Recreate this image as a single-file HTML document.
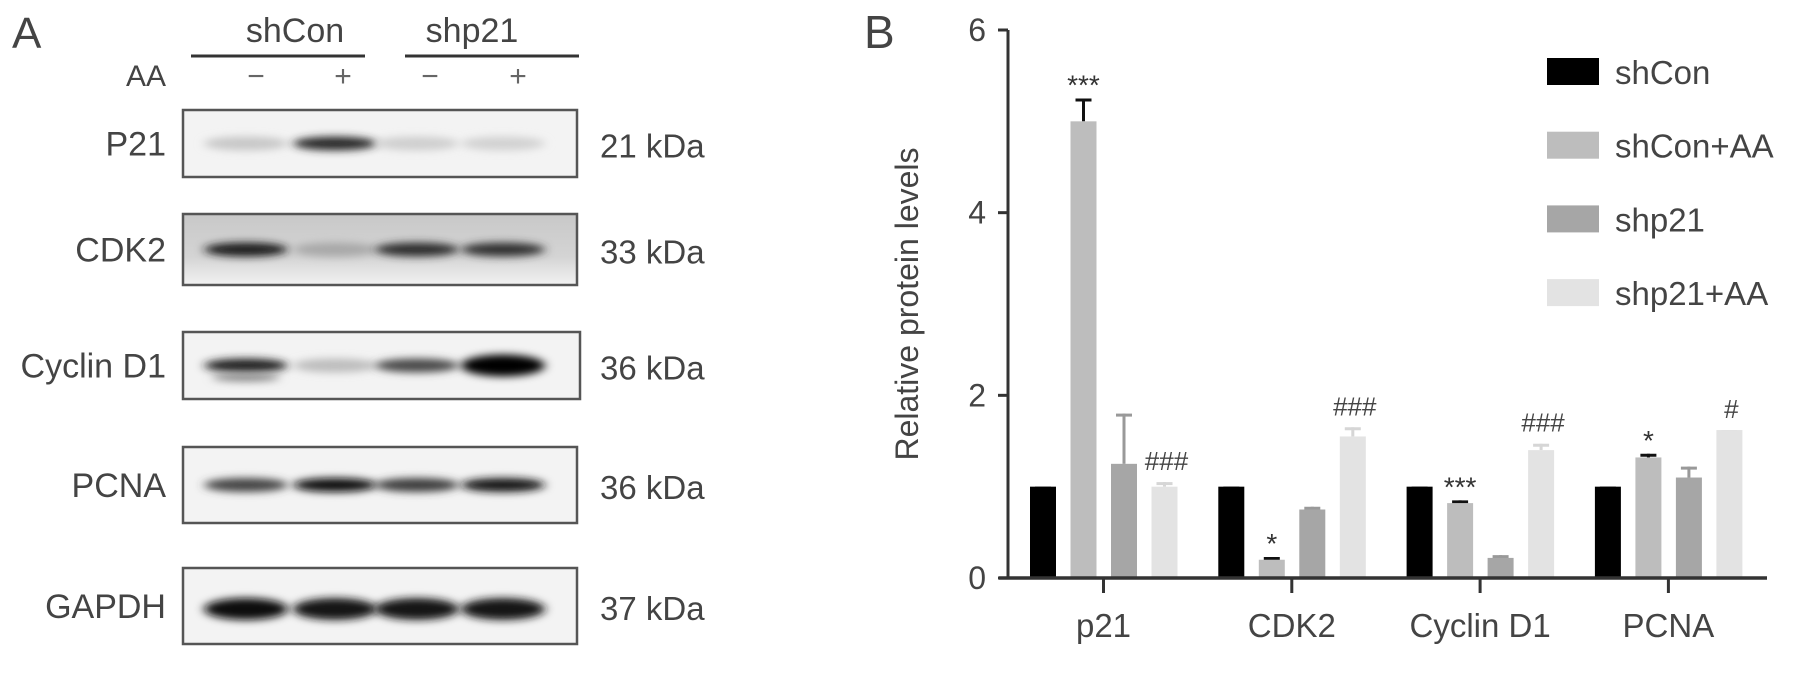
<!DOCTYPE html>
<html><head><meta charset="utf-8"><style>
html,body{margin:0;padding:0;background:#fff}
svg{display:block;font-family:"Liberation Sans",Arial,sans-serif}
</style></head><body>
<svg id="fig" width="1795" height="699" viewBox="0 0 1795 699" xmlns="http://www.w3.org/2000/svg">
<defs>
<filter id="bl" x="-50%" y="-100%" width="200%" height="300%"><feGaussianBlur stdDeviation="5 4"/></filter>
<linearGradient id="cdkbg" x1="0" y1="0" x2="0" y2="1"><stop offset="0" stop-color="#c8c8c8"/><stop offset="0.6" stop-color="#d4d4d4"/><stop offset="1" stop-color="#f2f2f2"/></linearGradient>
</defs>
<g fill="#444">
<text x="12" y="48" font-size="44">A</text>
<text x="295" y="42" font-size="34" text-anchor="middle">shCon</text>
<text x="472" y="42" font-size="34" text-anchor="middle">shp21</text>
<line x1="191" y1="56" x2="365" y2="56" stroke="#333" stroke-width="3"/>
<line x1="405" y1="56" x2="579" y2="56" stroke="#333" stroke-width="3"/>
<text x="166" y="86" font-size="30" text-anchor="end">AA</text>
<text x="256" y="86" font-size="30" text-anchor="middle" fill="#666">−</text>
<text x="343" y="86" font-size="30" text-anchor="middle" fill="#666">+</text>
<text x="430" y="86" font-size="30" text-anchor="middle" fill="#666">−</text>
<text x="518" y="86" font-size="30" text-anchor="middle" fill="#666">+</text>
<g id="blots"></g>
</g>
<g id="chart"></g>
</svg>
<script>
const NS='http://www.w3.org/2000/svg';
function mk(tag,attrs,parent){const e=document.createElementNS(NS,tag);for(const k in attrs)e.setAttribute(k,attrs[k]);parent.appendChild(e);return e;}

const blotNames=['P21','CDK2','Cyclin D1','PCNA','GAPDH'];
const blotKda=['21 kDa','33 kDa','36 kDa','36 kDa','37 kDa'];
const blotTop=[110,214,332,447,568];
const blotBottom=[177,285,399,523,644];
const blotBandColors=[['#c8c8c8','#2a2a2a','#cfcfcf','#d2d2d2'],['#1e1e1e','#a8a8a8','#2e2e2e','#333'],['#222','#bdbdbd','#4a4a4a','#000'],['#444','#111','#3c3c3c','#141414'],['#0e0e0e','#141414','#121212','#161616']];
const laneX=[246,335,417,503];
const bg=document.getElementById('blots');
blotNames.forEach((n,i)=>{
  const g=mk('g',{},bg);
  
  
  const y0=blotTop[i],y1=blotBottom[i],cy=(y0+y1)/2+(i===4?3:0);
  const r=mk('rect',{x:183,y:y0,width:(i===2?397:394),height:y1-y0,fill:i===1?'url(#cdkbg)':'#f3f3f3',stroke:'#555','stroke-width':2.5},g);
  
  
  laneX.forEach((lx,j)=>{
    const dark=i===4||(i===2&&j===3);
    const e=mk('ellipse',{cx:lx,cy:cy,rx:42,ry:dark?11:7,fill:blotBandColors[i][j],filter:'url(#bl)'},g);
    
    
  });
  if(i===2){const e=mk('ellipse',{cx:laneX[0],cy:cy+12,rx:34,ry:4,fill:'#888',filter:'url(#bl)'},g);}
  const t=mk('text',{x:166,y:(y0+y1)/2+12,'font-size':34,'text-anchor':'end',fill:'#444'},g);t.textContent=n;
  
  
  const k=mk('text',{x:600,y:(y0+y1)/2+14,'font-size':33,fill:'#444'},g);k.textContent=blotKda[i];
  
  
});

const categories=['p21','CDK2','Cyclin D1','PCNA'];
const seriesNames=['shCon','shCon+AA','shp21','shp21+AA'];
const shConVals=[1,1,1,1];
const shConAAVals=[5.0,0.2,0.82,1.32];
const shp21Vals=[1.25,0.75,0.22,1.1];
const shp21AAVals=[1.0,1.55,1.4,1.62];
const shConErr=[0,0,0,0];
const shConAAErr=[0.25,0.03,0.03,0.04];
const shp21Err=[0.55,0.03,0.03,0.12];
const shp21AAErr=[0.05,0.1,0.07,0];
const shConAAMarks=['***','*','***','*'];
const shp21AAMarks=['###','###','###','#'];
const yTicks=[0,2,4,6];

const colors=['#000','#bdbdbd','#a6a6a6','#e3e3e3'];
const errColors=['#000','#111','#999','#d6d6d6'];
const allVals=[shConVals,shConAAVals,shp21Vals,shp21AAVals];
const allErr=[shConErr,shConAAErr,shp21Err,shp21AAErr];
const X0=1008,Y0=578,YTOP=30,YMAX=6;
const y=v=>Y0-(v/YMAX)*(Y0-YTOP);
const groupC=i=>1103.5+i*188.3;
const barX=(i,s)=>groupC(i)-73.5+s*40.5;
const BW=26;
const ch=document.getElementById('chart');

let t=mk('text',{x:864,y:48,'font-size':46,fill:'#444'},ch);t.textContent='B';


t=mk('text',{x:0,y:0,'font-size':32,'text-anchor':'middle',fill:'#444',transform:`translate(918,${(Y0+YTOP)/2}) rotate(-90)`},ch);t.textContent='Relative protein levels';



allVals.forEach((vals,s)=>{
  vals.forEach((v,i)=>{
    const x=barX(i,s);
    const e=allErr[s][i];
    if(e>0){
      const l=mk('line',{x1:x+BW/2,x2:x+BW/2,y1:y(v),y2:y(v+e),stroke:errColors[s],'stroke-width':3},ch);
      
      
    }
    const c=mk('line',{x1:x+BW/2-8,x2:x+BW/2+8,y1:y(v+e)+1.5,y2:y(v+e)+1.5,stroke:errColors[s],'stroke-width':3},ch);
    
    
    const r=mk('rect',{x:x,y:y(v),width:BW,height:Y0-y(v),fill:colors[s]},ch);
    
    
  });
});
categories.forEach((c,i)=>{
  const s1=mk('text',{x:barX(i,1)+BW/2,y:y(shConAAVals[i]+shConAAErr[i])-4,'font-size':28,'text-anchor':'middle',fill:'#333'},ch);
  s1.textContent=shConAAMarks[i];
  
  
  const s2=mk('text',{x:barX(i,3)+BW/2+2,y:y(shp21AAVals[i]+shp21AAErr[i])-12,'font-size':26,'text-anchor':'middle',fill:'#444'},ch);
  s2.textContent=shp21AAMarks[i];
  
  
});
let a=mk('line',{x1:X0,x2:X0,y1:YTOP,y2:Y0+1,stroke:'#333','stroke-width':3},ch);


a=mk('line',{x1:X0-9,x2:1767,y1:Y0,y2:Y0,stroke:'#333','stroke-width':3.5},ch);


yTicks.forEach(v=>{
  const l=mk('line',{x1:X0-10,x2:X0,y1:y(v),y2:y(v),stroke:'#333','stroke-width':3},ch);
  
  
  const tt=mk('text',{x:X0-22,y:y(v)+11,'font-size':32,'text-anchor':'end',fill:'#444'},ch);tt.textContent=v;
  
  
});
categories.forEach((c,i)=>{
  const l=mk('line',{x1:groupC(i),x2:groupC(i),y1:Y0,y2:Y0+15,stroke:'#333','stroke-width':3},ch);
  
  
  const tt=mk('text',{x:groupC(i),y:637,'font-size':33,'text-anchor':'middle',fill:'#444'},ch);tt.textContent=c;
  
  
});
seriesNames.forEach((n,s)=>{
  const g=mk('g',{},ch);
  
  
  const yy=58+s*73.7;
  mk('rect',{x:1547,y:yy,width:52,height:27,fill:colors[s]},g);
  const tt=mk('text',{x:1615,y:yy+26,'font-size':33,fill:'#444'},g);tt.textContent=n;
});
</script>
</body></html>
